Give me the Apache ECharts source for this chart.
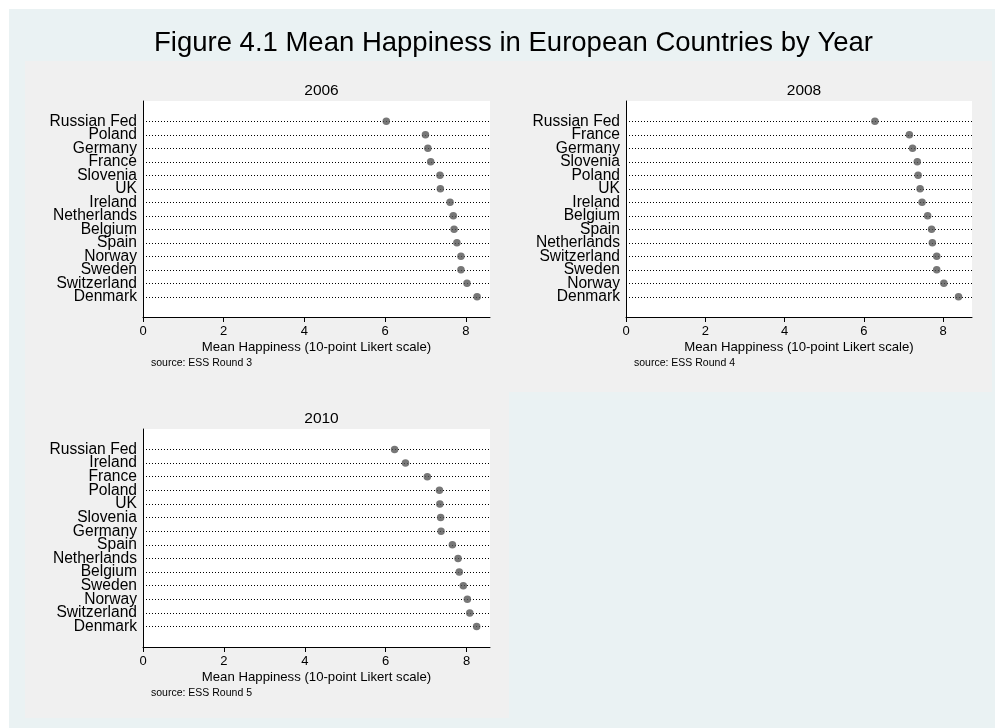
<!DOCTYPE html>
<html>
<head>
<meta charset="utf-8">
<title>Mean Happiness in European Countries by Year</title>
<script src="https://cdn.jsdelivr.net/npm/echarts@6/dist/echarts.min.js"></script>
<style>
  html, body { margin: 0; padding: 0; background: #ffffff; }
  #chart { width: 995px; height: 728px; }
</style>
</head>
<body>
<div id="chart"></div>
<script>
// Countries listed top to bottom, sorted by mean happiness for each survey round
const countries2006 = ['Russian Fed', 'Poland', 'Germany', 'France', 'Slovenia', 'UK', 'Ireland',
  'Netherlands', 'Belgium', 'Spain', 'Norway', 'Sweden', 'Switzerland', 'Denmark'];
const happiness2006 = [6.03, 7.00, 7.06, 7.13, 7.36, 7.37, 7.61, 7.69, 7.71, 7.78, 7.88, 7.88, 8.03, 8.28];

const countries2008 = ['Russian Fed', 'France', 'Germany', 'Slovenia', 'Poland', 'UK', 'Ireland',
  'Belgium', 'Spain', 'Netherlands', 'Switzerland', 'Sweden', 'Norway', 'Denmark'];
const happiness2008 = [6.28, 7.15, 7.23, 7.35, 7.37, 7.42, 7.47, 7.61, 7.71, 7.73, 7.84, 7.84, 8.02, 8.39];

const countries2010 = ['Russian Fed', 'Ireland', 'France', 'Poland', 'UK', 'Slovenia', 'Germany',
  'Spain', 'Netherlands', 'Belgium', 'Sweden', 'Norway', 'Switzerland', 'Denmark'];
const happiness2010 = [6.22, 6.49, 7.03, 7.33, 7.34, 7.36, 7.37, 7.65, 7.79, 7.82, 7.92, 8.02, 8.08, 8.25];

const xTicks = [0, 2, 4, 6, 8];
const panelYears = ['2006', '2008', '2010'];
const panelSources = ['source: ESS Round 3', 'source: ESS Round 4', 'source: ESS Round 5'];
const xAxisMax = [8.6, 8.73, 8.58];

const FONT = '"Liberation Sans", Arial, Helvetica, sans-serif';

const panels = [
  { names: countries2006, values: happiness2006, grid: { left: 143, top: 101, width: 347, height: 216 } },
  { names: countries2008, values: happiness2008, grid: { left: 626, top: 101, width: 346, height: 216 } },
  { names: countries2010, values: happiness2010, grid: { left: 143, top: 429, width: 347, height: 218 } }
];

const chart = echarts.init(document.getElementById('chart'), null, { renderer: 'canvas' });

const grids = [], xAxes = [], yAxes = [], series = [], titles = [];

titles.push({
  text: 'Figure 4.1 Mean Happiness in European Countries by Year',
  left: 508.5, top: 24, textAlign: 'center',
  textStyle: { fontFamily: FONT, fontSize: 27.5, fontWeight: 'normal', color: '#000' }
});

// The country labels sit closer together than their text height, so each panel
// carries two overlaid y axes: one labels the even rows, the other the odd rows.
function countryAxis(k, names, parity, showLine) {
  return {
    type: 'value', gridIndex: k, position: 'left', offset: 0,
    min: -1.5, max: 14.5, inverse: true,
    axisLine: { show: showLine, onZero: false, lineStyle: { color: '#000', width: 1 } },
    axisTick: { show: false },
    splitLine: { show: false },
    axisLabel: {
      customValues: names.map((_, i) => i).filter(i => i % 2 === parity),
      formatter: (v) => names[Math.round(v)] || '',
      showMinLabel: true, showMaxLabel: true,
      margin: 6, fontFamily: FONT, fontSize: 15.6, color: '#000'
    }
  };
}

panels.forEach((p, k) => {
  const g = p.grid;
  grids.push({
    left: g.left, top: g.top, width: g.width, height: g.height,
    show: true, backgroundColor: '#ffffff', borderWidth: 0, containLabel: false
  });
  xAxes.push({
    type: 'value', gridIndex: k, min: 0, max: xAxisMax[k],
    axisLine: { show: true, onZero: false, lineStyle: { color: '#000', width: 1 } },
    axisTick: { show: true, length: 5, customValues: xTicks, lineStyle: { color: '#000' } },
    axisLabel: { customValues: xTicks, margin: 8, fontFamily: FONT, fontSize: 13, color: '#000' },
    splitLine: { show: false },
    name: 'Mean Happiness (10-point Likert scale)',
    nameLocation: 'middle', nameGap: 23.5,
    nameTextStyle: { fontFamily: FONT, fontSize: 13.2, color: '#000' }
  });
  yAxes.push(countryAxis(k, p.names, 0, true));
  yAxes.push(countryAxis(k, p.names, 1, false));
  series.push({
    type: 'scatter', xAxisIndex: k, yAxisIndex: 2 * k,
    data: p.values.map((v, i) => [v, i]),
    symbol: 'circle', symbolSize: 7.5,
    itemStyle: { color: '#555555' },
    z: 3, silent: true, animation: false,
    markLine: {
      z: 1, silent: true, animation: false,
      symbol: ['none', 'none'],
      label: { show: false },
      lineStyle: { type: [1, 2], color: '#000', width: 1, opacity: 1 },
      emphasis: { disabled: true },
      data: p.names.map((_, i) => ({ yAxis: i }))
    }
  });
  const cx = g.left + g.width / 2;
  titles.push({
    text: panelYears[k], left: cx, top: g.top - 23, textAlign: 'center',
    textStyle: { fontFamily: FONT, fontSize: 15.5, fontWeight: 'normal', color: '#000' }
  });
  titles.push({
    text: panelSources[k], left: g.left + 3, top: g.top + g.height + 36,
    textStyle: { fontFamily: FONT, fontSize: 10.5, fontWeight: 'normal', color: '#000' }
  });
});

chart.setOption({
  backgroundColor: '#ffffff',
  animation: false,
  graphic: [
    { type: 'rect', silent: true, z: -10, shape: { x: 9, y: 9, width: 986, height: 719 }, style: { fill: '#eaf2f3' } },
    { type: 'rect', silent: true, z: -9, shape: { x: 25, y: 61, width: 967, height: 331 }, style: { fill: '#f0f0f0' } },
    { type: 'rect', silent: true, z: -9, shape: { x: 25, y: 392, width: 484, height: 326 }, style: { fill: '#f0f0f0' } }
  ],
  title: titles,
  grid: grids,
  xAxis: xAxes,
  yAxis: yAxes,
  series: series
});
</script>
</body>
</html>
